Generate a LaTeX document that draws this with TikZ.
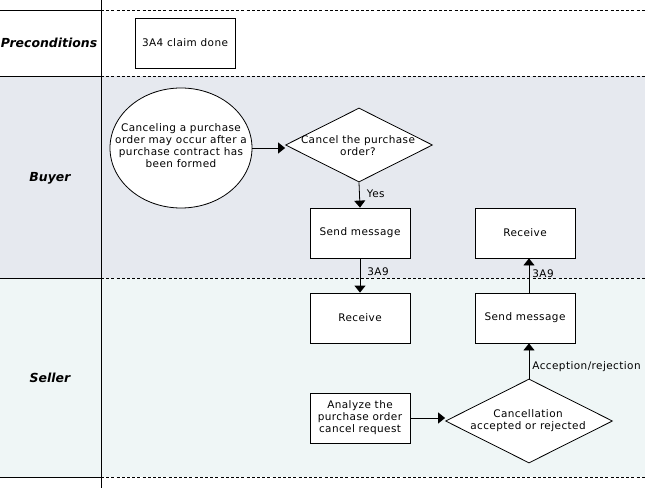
\documentclass[tikz,border=0pt]{standalone}
\usepackage{fontspec}
\setmainfont{DejaVu Sans}[LetterSpace=4]
\newfontfamily\lanefont{DejaVu Sans}
\usetikzlibrary{arrows.meta,shapes.geometric}
\definecolor{buyerbg}{RGB}{230,233,239}
\definecolor{sellerbg}{RGB}{239,246,246}
\begin{document}
\begin{tikzpicture}[x=1bp,y=-1bp,
  line width=0.8bp,
  txt/.style={font=\fontsize{10.5}{12}\selectfont},
  box/.style={txt,draw,fill=white,minimum width=100bp,minimum height=50bp,inner sep=0pt,align=center},
  decision/.style={draw,fill=white,diamond,inner sep=0pt},
  inner/.style={txt,align=center,inner sep=0pt},
  lane/.style={font=\lanefont\fontsize{12.5}{14}\selectfont\bfseries\itshape},
  lbl/.style={txt,anchor=west,inner sep=0pt},
  flow/.style={-{Triangle[width=11bp,length=7bp]}},
  solidline/.style={line width=0.8bp},
  dashline/.style={line width=0.8bp,dash pattern=on 3bp off 2.2bp}]
\useasboundingbox (0,0) rectangle (645,488);
% backgrounds
\fill[buyerbg] (0,76) rectangle (645,278);
\fill[sellerbg] (0,278) rectangle (645,477);
% lane lines
\foreach \yy in {10,76,278,477}{
  \draw[solidline] (0,\yy) -- (101,\yy);
  \draw[dashline] (101,\yy) -- (645,\yy);
}
\draw[solidline] (101,0) -- (101,488);
% lane labels
\node[lane] (lpre) at (49,43) {Preconditions};
\node[lane] (lbuy) at (50,178) {Buyer};
\node[lane] (lsel) at (50,378) {Seller};
% nodes
\node[box] (pre) at (185,43) {3A4 claim done};
\node[draw,fill=white,ellipse,minimum width=142bp,minimum height=120bp,inner sep=0pt] (start) at (181,148) {};
\node[inner] (starttxt) at (181,146) {Canceling a purchase\\order may occur after a\\purchase contract has\\been formed};
\node[decision,minimum width=147bp,minimum height=74bp] (dec1) at (359,145) {};
\node[inner] (dec1txt) at (358,146) {Cancel the purchase\\order?};
\node[box] (sendb) at (360,233) {Send message};
\node[box] (recvb) at (525,233) {Receive};
\node[box] (recvs) at (360,318) {Receive};
\node[box] (sends) at (525,318) {Send message};
\node[box] (anal) at (360,418) {Analyze the\\purchase order\\cancel request};
\node[decision,minimum width=167bp,minimum height=84bp] (dec2) at (529,421) {};
\node[inner] (dec2txt) at (528,421) {Cancellation\\accepted or rejected};
% connectors
\draw[flow] (start.east) -- (start.east -| dec1.west);
\draw[flow] (dec1.south) -- (sendb.north) node[lbl,pos=0.45,xshift=7bp] {Yes};
\draw[flow] (sendb.south) -- (recvs.north) node[lbl,pos=0.4,xshift=7bp] {3A9};
\draw[flow] (anal.east) -- (anal.east -| dec2.west);
\draw[flow] (dec2.north) -- (dec2.north |- sends.south) node[lbl,pos=0.33,xshift=3bp] {Acception/rejection};
\draw[flow] (sends.north -| dec2.north) -- (recvb.south -| dec2.north) node[lbl,pos=0.55,xshift=3bp] {3A9};
\end{tikzpicture}
\end{document}
